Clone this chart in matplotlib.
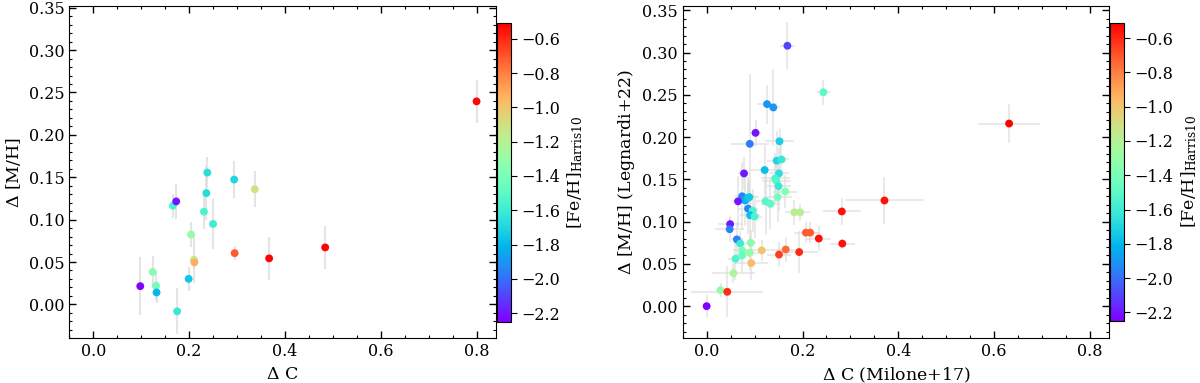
import numpy as np
import matplotlib
matplotlib.use("Agg")
import matplotlib.pyplot as plt
from matplotlib.colors import Normalize
from matplotlib.ticker import MultipleLocator

plt.rcParams['font.family'] = 'DejaVu Serif'
plt.rcParams['mathtext.fontset'] = 'dejavuserif'

# left panel: Delta C vs Delta [M/H]
dc_left = [0.098, 0.124, 0.131, 0.132, 0.166, 0.173, 0.175, 0.199, 0.204, 0.210, 0.211,
           0.231, 0.236, 0.238, 0.250, 0.294, 0.295, 0.337, 0.367, 0.484, 0.800]
dmh_left = [0.0215, 0.0383, 0.0219, 0.0141, 0.1164, 0.1215, -0.0082, 0.0301, 0.0824, 0.0527, 0.0496,
            0.1094, 0.1313, 0.1555, 0.0949, 0.1473, 0.0605, 0.1359, 0.0543, 0.0672, 0.2395]
dmh_err_left = [0.034, 0.019, 0.017, 0.013, 0.014, 0.021, 0.027, 0.014, 0.015, 0.028, 0.008,
                0.021, 0.032, 0.018, 0.029, 0.022, 0.008, 0.021, 0.025, 0.025, 0.025]
feh_left = [-2.24, -1.35, -1.42, -1.80, -1.55, -2.20, -1.62, -1.76, -1.30, -1.15, -0.93,
            -1.55, -1.68, -1.67, -1.60, -1.70, -0.72, -1.12, -0.52, -0.52, -0.53]

# right panel: Milone+17 vs Legnardi+22
dc_right = [0.000, 0.029, 0.043, 0.056, 0.060, 0.063, 0.070, 0.074, 0.074, 0.092, 0.090,
            0.115, 0.093, 0.049, 0.048, 0.151, 0.165, 0.193, 0.207, 0.216, 0.234, 0.283,
            0.102, 0.090, 0.152, 0.146, 0.156, 0.078, 0.121, 0.151, 0.143, 0.1455, 0.150,
            0.164, 0.148, 0.123, 0.133, 0.074, 0.080, 0.0856, 0.089, 0.0655, 0.0864, 0.096,
            0.0906, 0.100, 0.183, 0.195, 0.282, 0.126, 0.139, 0.1685, 0.2436, 0.371, 0.631]
dmh_right = [0.000, 0.019, 0.017, 0.039, 0.056, 0.079, 0.074, 0.066, 0.060, 0.075, 0.063,
             0.066, 0.051, 0.097, 0.091, 0.061, 0.067, 0.064, 0.087, 0.087, 0.080, 0.074,
             0.205, 0.192, 0.195, 0.172, 0.1735, 0.157, 0.161, 0.157, 0.151, 0.148, 0.142,
             0.1356, 0.129, 0.124, 0.121, 0.130, 0.125, 0.128, 0.129, 0.124, 0.1154, 0.113,
             0.1075, 0.106, 0.111, 0.111, 0.112, 0.239, 0.235, 0.308, 0.253, 0.125, 0.216]
dc_err_right = [0.0, 0.008, 0.075, 0.045, 0.015, 0.012, 0.010, 0.020, 0.015, 0.012, 0.020,
                0.040, 0.035, 0.025, 0.030, 0.025, 0.020, 0.040, 0.025, 0.020, 0.025, 0.026,
                0.012, 0.040, 0.030, 0.020, 0.015, 0.012, 0.030, 0.020, 0.030, 0.030, 0.025,
                0.025, 0.030, 0.020, 0.020, 0.015, 0.015, 0.012, 0.020, 0.010, 0.020, 0.012,
                0.020, 0.015, 0.020, 0.020, 0.040, 0.020, 0.014, 0.016, 0.013, 0.083, 0.065]
dmh_err_right = [0.013, 0.008, 0.030, 0.012, 0.025, 0.020, 0.015, 0.015, 0.020, 0.015, 0.020,
                 0.012, 0.020, 0.010, 0.015, 0.015, 0.015, 0.025, 0.012, 0.012, 0.015, 0.006,
                 0.015, 0.083, 0.015, 0.035, 0.020, 0.020, 0.030, 0.030, 0.030, 0.025, 0.030,
                 0.020, 0.030, 0.040, 0.030, 0.040, 0.030, 0.025, 0.020, 0.030, 0.030, 0.025,
                 0.030, 0.025, 0.015, 0.010, 0.016, 0.023, 0.046, 0.028, 0.015, 0.028, 0.023]
feh_right = [-2.25, -1.30, -0.60, -1.23, -1.55, -1.95, -1.60, -1.40, -1.45, -1.35, -1.30,
             -1.00, -0.97, -2.20, -1.95, -0.65, -0.75, -0.60, -0.72, -0.72, -0.55, -0.55,
             -2.20, -1.97, -1.72, -1.70, -1.62, -2.20, -1.78, -1.66, -1.55, -1.52, -1.62,
             -1.38, -1.42, -1.52, -1.50, -1.95, -1.82, -1.78, -1.75, -2.20, -1.95, -1.55,
             -1.78, -1.55, -1.18, -1.18, -0.55, -1.90, -1.90, -2.10, -1.50, -0.55, -0.50]

norm = Normalize(vmin=-2.25, vmax=-0.51)
cmap = 'rainbow'

fig = plt.figure(figsize=(12, 3.83), dpi=100)
ax1 = fig.add_axes([0.0578, 0.1167, 0.3553, 0.8676])
cax1 = fig.add_axes([0.4139, 0.160, 0.0117, 0.779])
ax2 = fig.add_axes([0.5689, 0.1167, 0.3555, 0.8676])
cax2 = fig.add_axes([0.925, 0.1619, 0.0119, 0.779])


def style_axes(ax):
    ax.set_xlim(-0.05, 0.84)
    ax.xaxis.set_major_locator(MultipleLocator(0.2))
    ax.xaxis.set_minor_locator(MultipleLocator(0.05))
    ax.yaxis.set_major_locator(MultipleLocator(0.05))
    ax.yaxis.set_minor_locator(MultipleLocator(0.01))
    ax.tick_params(which='both', direction='in', top=True, right=True, labelsize=11.5)
    ax.tick_params(which='major', length=5, width=1)
    ax.tick_params(which='minor', length=2.5, width=0.8)
    ax.yaxis.set_major_formatter(matplotlib.ticker.FormatStrFormatter('%.2f'))
    ax.xaxis.set_major_formatter(matplotlib.ticker.FormatStrFormatter('%.1f'))


# left
ax1.errorbar(dc_left, dmh_left, yerr=dmh_err_left, fmt='none', ecolor='#dadada',
             elinewidth=1.5, alpha=0.7, zorder=1)
sc1 = ax1.scatter(dc_left, dmh_left, c=feh_left, cmap=cmap, norm=norm, s=32,
                  edgecolors='none', zorder=2)
style_axes(ax1)
ax1.set_ylim(-0.04, 0.352)
ax1.set_xlabel(r'$\Delta$ C', fontsize=12.5)
ax1.set_ylabel(r'$\Delta$ [M/H]', fontsize=12.5)

cb1 = fig.colorbar(sc1, cax=cax1)
cb1.set_ticks(np.arange(-2.2, -0.55, 0.2))
cb1.ax.tick_params(labelsize=11.5, length=4)
cb1.set_label(r'[Fe/H]$_{\rm Harris10}$', fontsize=12.5)

# right
ax2.errorbar(dc_right, dmh_right, xerr=dc_err_right, yerr=dmh_err_right, fmt='none',
             ecolor='#dadada', elinewidth=1.5, alpha=0.55, zorder=1)
sc2 = ax2.scatter(dc_right, dmh_right, c=feh_right, cmap=cmap, norm=norm, s=32,
                  edgecolors='none', zorder=2)
style_axes(ax2)
ax2.set_ylim(-0.038, 0.355)
ax2.set_xlabel(r'$\Delta$ C (Milone+17)', fontsize=12.5)
ax2.set_ylabel(r'$\Delta$ [M/H] (Legnardi+22)', fontsize=12.5)

cb2 = fig.colorbar(sc2, cax=cax2)
cb2.set_ticks(np.arange(-2.2, -0.55, 0.2))
cb2.ax.tick_params(labelsize=11.5, length=4)
cb2.set_label(r'[Fe/H]$_{\rm Harris10}$', fontsize=12.5)

fig.savefig('out.png', dpi=100)
